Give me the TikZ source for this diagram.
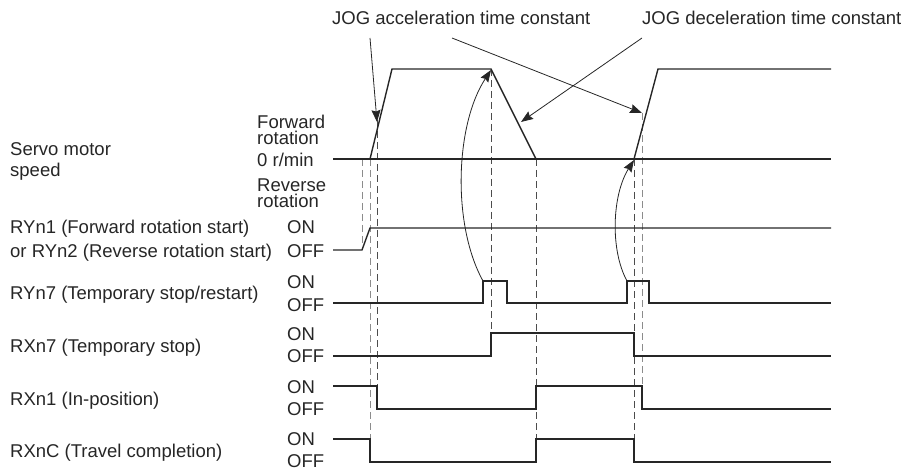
\documentclass[tikz,border=0pt]{standalone}
\usepackage{fontspec}
\setmainfont{Liberation Sans}
\usetikzlibrary{arrows.meta}
\begin{document}
\begin{tikzpicture}[x=1pt,y=-1pt,
  lbl/.style={anchor=base west,inner sep=0pt,text=black!85,font=\fontsize{18.5}{21}\selectfont},
  tight/.style={anchor=base west,inner sep=0pt,text=black!85,align=left,font=\fontsize{18.5}{16}\selectfont},
  wave/.style={line width=1.4pt,black!85,line join=miter},
  guide/.style={line width=1pt,black!70,dash pattern=on 7pt off 4pt},
  guidel/.style={line width=1pt,black!45,dash pattern=on 7pt off 4pt},
  pointer/.style={line width=0.8pt,black!85,-{Stealth[length=12pt,width=9pt,inset=1.5pt]}}]
\useasboundingbox (0,0) rectangle (907,470);
% top labels
\node[lbl] (acc) at (332,25) {JOG acceleration time constant};
\node[lbl] (dec) at (642,25) {JOG deceleration time constant};
% left labels
\node[lbl] (sm1) at (10,156) {Servo motor};
\node[lbl] (sm2) at (10,177) {speed};
\node[tight] (fw) at (257,145) {Forward\\rotation};
\node[lbl] (zero) at (257,167) {0 r/min};
\node[tight] (rv) at (257,208) {Reverse\\rotation};
\node[lbl] (ry1) at (10,234) {RYn1 (Forward rotation start)};
\node[lbl] (ry2) at (10,258) {or RYn2 (Reverse rotation start)};
\node[lbl] (on1) at (287,234) {ON};
\node[lbl] (off1) at (287,258) {OFF};
\node[lbl] (ry7) at (10,299) {RYn7 (Temporary stop/restart)};
\node[lbl] (on2) at (287,288) {ON};
\node[lbl] (off2) at (287,311) {OFF};
\node[lbl] (rx7) at (10,352) {RXn7 (Temporary stop)};
\node[lbl] (on3) at (287,340) {ON};
\node[lbl] (off3) at (287,362) {OFF};
\node[lbl] (rx1) at (10,405) {RXn1 (In-position)};
\node[lbl] (on4) at (287,393) {ON};
\node[lbl] (off4) at (287,415) {OFF};
\node[lbl] (rxc) at (10,457) {RXnC (Travel completion)};
\node[lbl] (on5) at (287,445) {ON};
\node[lbl] (off5) at (287,467) {OFF};
% guides
\draw[guidel] (362,159) -- (362,250);
\draw[guidel] (370,159) -- (370,439);
\draw[guide] (377,120) -- (377,386);
\draw[guide] (491,69) -- (491,333);
\draw[guide] (536,159) -- (536,439);
\draw[guide] (634,159) -- (634,439);
\draw[guidel] (642,113) -- (642,386);
% waveforms
\draw[wave] (333,159) -- (831,159);
\draw[wave] (370,159) -- (392,69) -- (491,69) -- (536,159);
\draw[wave] (634,159) -- (658,69) -- (831,69);
\draw[wave] (333,250) -- (362,250) -- (370,228) -- (831,228);
\draw[wave] (333,303) -- (483,303) -- (483,281) -- (507,281) -- (507,303) -- (627,303) -- (627,281) -- (649,281) -- (649,303) -- (831,303);
\draw[wave] (333,356) -- (491,356) -- (491,333) -- (634,333) -- (634,356) -- (831,356);
\draw[wave] (333,386) -- (377,386) -- (377,409) -- (536,409) -- (536,386) -- (642,386) -- (642,409) -- (831,409);
\draw[wave] (333,439) -- (370,439) -- (370,462) -- (536,462) -- (536,439) -- (634,439) -- (634,462) -- (831,462);
% pointer coordinates
\coordinate (a1) at (370,38);
\coordinate (a1t) at (377,122);
\coordinate (a2) at (452,38);
\coordinate (a2t) at (642,113);
\coordinate (d1) at (642,38);
\coordinate (d1t) at (521,122);
\coordinate (c1) at (483,281);
\coordinate (c1t) at (491,70);
\coordinate (c2) at (627,281);
\coordinate (c2t) at (634,160);
\draw[pointer] (a1) -- (a1t);
\draw[pointer] (a2) -- (a2t);
\draw[pointer] (d1) -- (d1t);
\draw[pointer] (c1) .. controls (452,225) and (455,125) .. (c1t);
\draw[pointer] (c2) .. controls (610,250) and (612,195) .. (c2t);
\end{tikzpicture}
\end{document}
